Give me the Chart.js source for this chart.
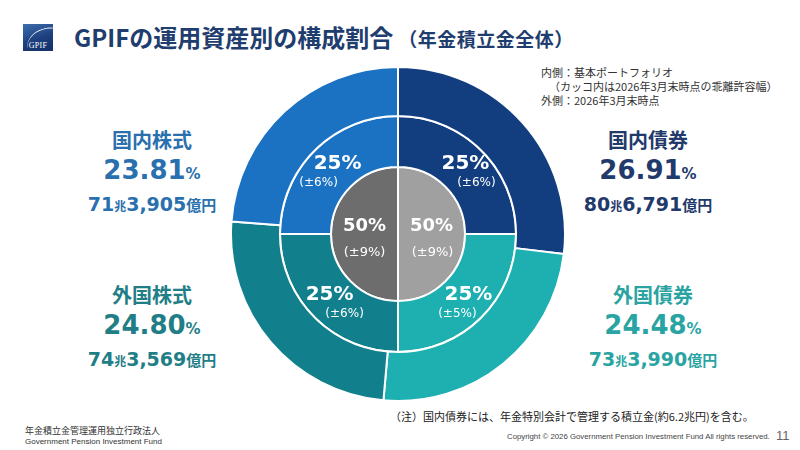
<!DOCTYPE html>
<html lang="ja">
<head>
<meta charset="utf-8">
<script src="https://cdn.jsdelivr.net/npm/chart.js@4.4.1/dist/chart.umd.min.js"></script>
<style>
  body { margin: 0; width: 800px; height: 450px; background: #fff; position: relative; overflow: hidden;
         font-family: "Noto Sans CJK JP", "Noto Sans", sans-serif; }
  .abs { position: absolute; white-space: nowrap; }
  #logo { left: 23px; top: 24px; width: 30px; height: 27px;
          background: linear-gradient(160deg, #3d6fb0 0%, #1d3f7c 55%, #13306a 100%); overflow: hidden; }
  #logo .swoosh { position: absolute; left: 4px; top: 4px; width: 40px; height: 30px; border-radius: 50%;
                  border-top: 1.5px solid rgba(255,255,255,0.9); transform: rotate(-18deg); }
  #logo .t { position: absolute; left: 0; right: 0; bottom: 1px; text-align: center; color: #fff;
             font: 8px "Liberation Serif", serif; letter-spacing: 0.3px; }
  #title { left: 74px; top: 19px; color: #1f3d6e; font-weight: bold; font-size: 24px; }
  #title small { font-size: 19px; margin-left: 5px; letter-spacing: 0.5px; }
  .legend { left: 541px; font-size: 11px; color: #333; line-height: 14px; }
  .side { text-align: center; transform: translateX(-50%); }
  .side .name { font-weight: bold; font-size: 20px; line-height: 30px; }
  .side .pct { font: bold 26px "DejaVu Sans", sans-serif; line-height: 30px; }
  .side .pct span { font-size: 15px; }
  .side .amt { font: bold 19px "DejaVu Sans", sans-serif; line-height: 30px; }
  .side .amt .c { font: bold 12px "Noto Sans CJK JP", sans-serif; }
  .side .amt .u { font: bold 15px "Noto Sans CJK JP", sans-serif; }
  #note { left: 390px; top: 408px; font-size: 11px; color: #222; }
  #org1 { left: 25px; top: 424px; font-size: 9px; color: #333; }
  #org2 { left: 25px; top: 437px; font: 8px "Liberation Sans", sans-serif; color: #333; }
  #copy { left: 507px; top: 432px; font: 7.8px "Liberation Sans", sans-serif; color: #444; }
  #page { left: 776px; top: 428px; font: 13px "Liberation Sans", sans-serif; color: #666; }
  #wrap { left: 230px; top: 66px; width: 336px; height: 336px; }
</style>
</head>
<body>
<div id="logo" class="abs"><div class="swoosh"></div><div class="t">GPIF</div></div>
<div id="title" class="abs">GPIFの運用資産別の構成割合<small>（年金積立金全体）</small></div>
<div class="abs legend" style="top:65px">内側：基本ポートフォリオ</div>
<div class="abs legend" style="top:79px; left:549px">（カッコ内は2026年3月末時点の乖離許容幅）</div>
<div class="abs legend" style="top:93px">外側：2026年3月末時点</div>
<div id="wrap" class="abs"><canvas id="canvas-pf" width="336" height="336"></canvas></div>
<div id="note" class="abs">（注）国内債券には、年金特別会計で管理する積立金(約6.2兆円)を含む。</div>
<div id="org1" class="abs">年金積立金管理運用独立行政法人</div>
<div id="org2" class="abs">Government Pension Investment Fund</div>
<div id="copy" class="abs">Copyright © 2026 Government Pension Investment Fund All rights reserved.</div>
<div id="page" class="abs">11</div>
<script>
// clockwise from 12 o'clock
const assets = ["国内債券", "外国債券", "外国株式", "国内株式"];
const actualPct = [26.91, 24.48, 24.80, 23.81];
const actualAmt = ["80兆6,791億円", "73兆3,990億円", "74兆3,569億円", "71兆3,905億円"];
const policyPct = [25, 25, 25, 25];
const policyRange = ["(±6%)", "(±5%)", "(±6%)", "(±6%)"];
const groups = ["債券", "株式"];
const groupPct = [50, 50];
const groupRange = ["(±9%)", "(±9%)"];

const sliceColors = ["#123d7f", "#1eafb0", "#12808c", "#1b72c3"];
const textColors = ["#1f3a6b", "#2aa4a2", "#1f7e86", "#2a6fae"];
const grayColors = ["#a0a0a0", "#6d6d6d"];

// side label boxes (center x, top y)
const sidePos = [[648, 125], [653, 280], [152, 280], [152, 125]];
assets.forEach(function (name, i) {
  const d = document.createElement("div");
  d.className = "abs side";
  d.style.left = sidePos[i][0] + "px";
  d.style.top = sidePos[i][1] + "px";
  d.style.color = textColors[i];
  const amt = actualAmt[i].replace("兆", '<span class="c">兆</span>').replace("億円", '<span class="u">億円</span>');
  d.innerHTML = '<div class="name">' + name + '</div>' +
    '<div class="pct">' + actualPct[i].toFixed(2) + '<span>%</span></div>' +
    '<div class="amt">' + amt + '</div>';
  document.body.appendChild(d);
});

const ringLabels = {
  id: "ringLabels",
  afterDatasetsDraw(chart, args, opts) {
    const ctx = chart.ctx;
    ctx.save();
    ctx.fillStyle = "#fff";
    ctx.textAlign = "center";
    ctx.textBaseline = "middle";
    opts.rings.forEach(function (r) {
      const meta = chart.getDatasetMeta(r.dataset);
      meta.data.forEach(function (arc, j) {
        const p = arc.tooltipPosition();
        ctx.font = r.mainFont;
        ctx.fillText(r.main[j], p.x + r.mainDx[j], p.y + r.mainDy);
        ctx.font = r.subFont;
        ctx.fillText(r.sub[j], p.x + r.subDx[j], p.y + r.subDy);
      });
    });
    ctx.restore();
  },
};

new Chart(document.getElementById("canvas-pf"), {
  type: "doughnut",
  plugins: [ringLabels],
  data: {
    labels: assets,
    datasets: [
      { data: actualPct, backgroundColor: sliceColors, borderColor: "#fff", borderWidth: 2, weight: 49 },
      { data: policyPct, backgroundColor: sliceColors, borderColor: "#fff", borderWidth: 2, weight: 51 },
      { data: groupPct, backgroundColor: grayColors, borderColor: "#fff", borderWidth: 2, weight: 67 },
    ],
  },
  options: {
    responsive: false,
    animation: false,
    cutout: 0,
    layout: { padding: 0 },
    plugins: {
      legend: { display: false },
      tooltip: { enabled: false },
      ringLabels: {
        rings: [
          {
            dataset: 1,
            main: policyPct.map(function (v) { return v + "%"; }),
            sub: policyRange,
            mainFont: "bold 20px 'DejaVu Sans'",
            subFont: "12px 'DejaVu Sans'",
            mainDx: [2, 5, -3, 5],
            subDx: [13, -6, 12, -14],
            mainDy: -5,
            subDy: 14,
          },
          {
            dataset: 2,
            main: groupPct.map(function (v) { return v + "%"; }),
            sub: groupRange,
            mainFont: "bold 18px 'DejaVu Sans'",
            subFont: "13px 'DejaVu Sans'",
            mainDx: [0, 0],
            subDx: [1, 0],
            mainDy: -8,
            subDy: 19,
          },
        ],
      },
    },
  },
});
</script>
</body>
</html>
